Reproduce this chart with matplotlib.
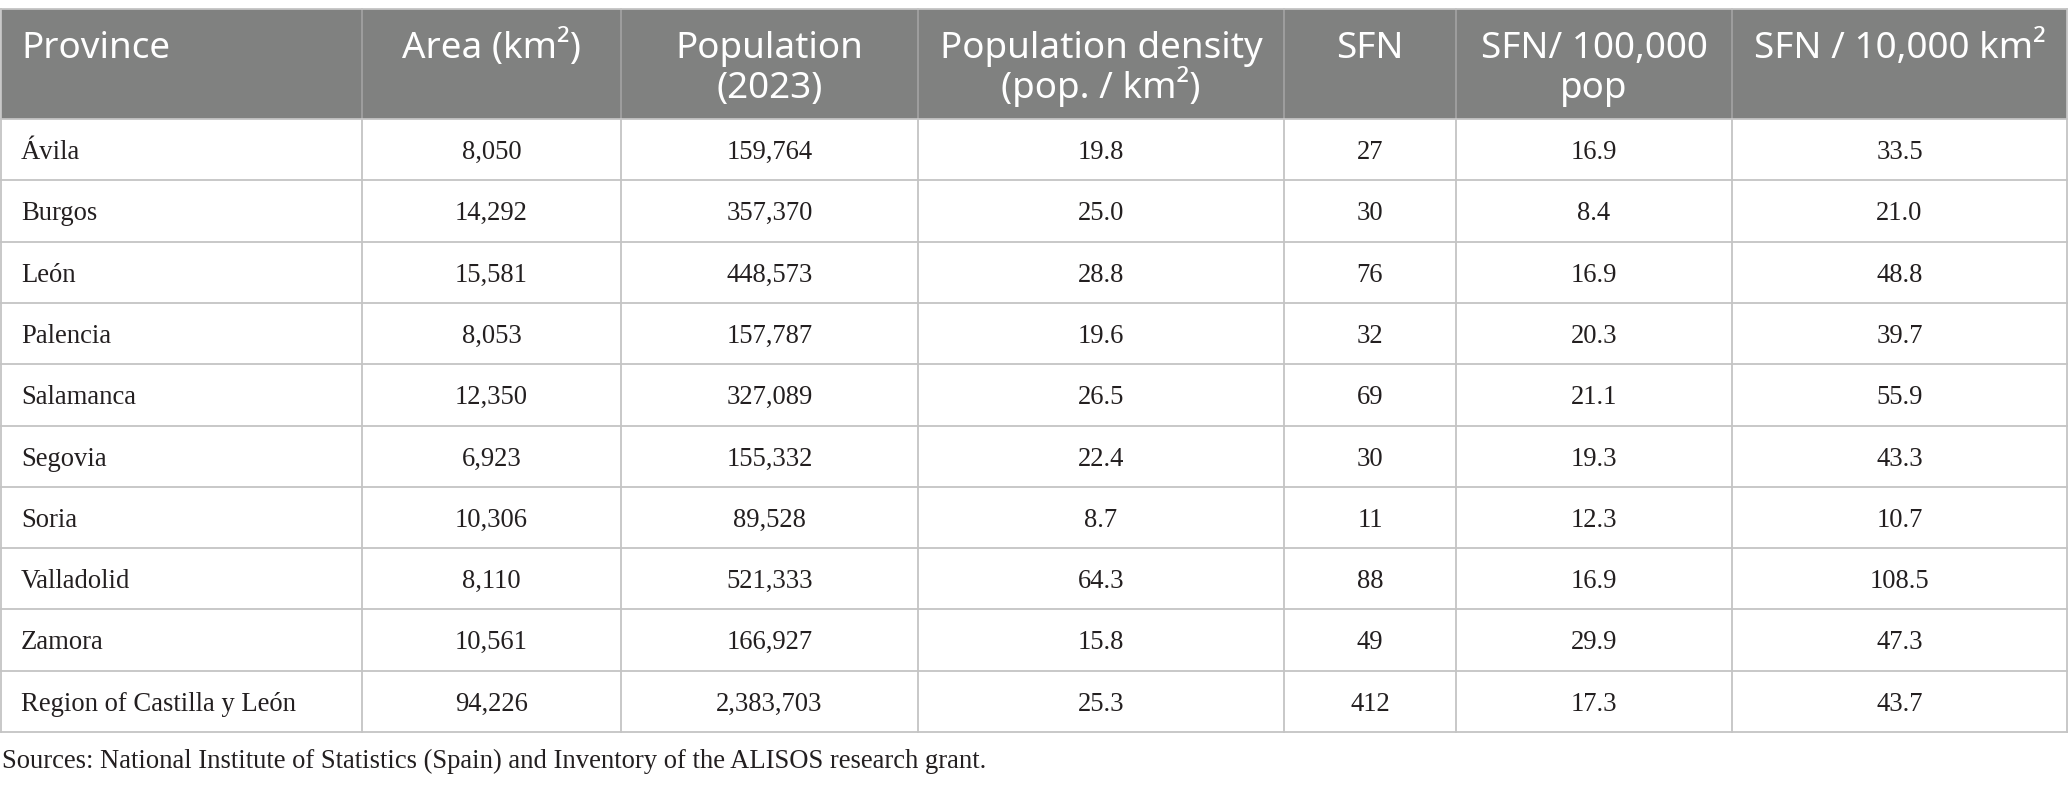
import matplotlib
matplotlib.use("Agg")
import matplotlib.pyplot as plt
from matplotlib.patches import Rectangle

# ---- data ----
provinces = ["Ávila", "Burgos", "León", "Palencia", "Salamanca", "Segovia",
             "Soria", "Valladolid", "Zamora", "Region of Castilla y León"]
area_km2 = [8050, 14292, 15581, 8053, 12350, 6923, 10306, 8110, 10561, 94226]
population_2023 = [159764, 357370, 448573, 157787, 327089, 155332, 89528,
                   521333, 166927, 2383703]
pop_density = [19.8, 25.0, 28.8, 19.6, 26.5, 22.4, 8.7, 64.3, 15.8, 25.3]
sfn = [27, 30, 76, 32, 69, 30, 11, 88, 49, 412]
sfn_per_100k = [16.9, 8.4, 16.9, 20.3, 21.1, 19.3, 12.3, 16.9, 29.9, 17.3]
sfn_per_10k_km2 = [33.5, 21.0, 48.8, 39.7, 55.9, 43.3, 10.7, 108.5, 47.3, 43.7]

headers = [["Province"], ["Area (km²)"], ["Population", "(2023)"],
           ["Population density", "(pop. / km²)"], ["SFN"],
           ["SFN/ 100,000", "pop"], ["SFN / 10,000 km²"]]
footnote = "Sources: National Institute of Statistics (Spain) and Inventory of the ALISOS research grant."

# ---- layout (pixel coordinates) ----
W, H = 2068, 789
col_edges = [1, 362, 621, 918, 1284, 1456, 1732, 2067]
table_top, header_bottom, table_bottom = 9, 119, 732
n_rows = len(provinces)
row_h = (table_bottom - header_bottom) / n_rows

header_bg = "#808180"
grid_col = "#c4c4c4"
header_div = "#a6a6a6"
text_col = "#231f20"

fig = plt.figure(figsize=(W / 100, H / 100), dpi=100)
ax = fig.add_axes([0, 0, 1, 1])
ax.set_xlim(0, W)
ax.set_ylim(H, 0)
ax.axis("off")

# header background
ax.add_patch(Rectangle((col_edges[0], table_top), col_edges[-1] - col_edges[0],
                       header_bottom - table_top, facecolor=header_bg,
                       edgecolor="none", zorder=1))
# top border line
ax.plot([col_edges[0], col_edges[-1]], [table_top, table_top], color=grid_col, lw=1.3, zorder=3)
# header vertical dividers
for x in col_edges[1:-1]:
    ax.plot([x, x], [table_top, header_bottom], color=header_div, lw=1.1, zorder=2)
# body grid
for i in range(n_rows + 1):
    y = header_bottom + i * row_h
    ax.plot([col_edges[0], col_edges[-1]], [y, y], color=grid_col, lw=1.3, zorder=3)
for x in col_edges:
    ax.plot([x, x], [header_bottom, table_bottom], color=grid_col, lw=1.3, zorder=3)
for x in (col_edges[0], col_edges[-1]):
    ax.plot([x, x], [table_top, header_bottom], color=grid_col, lw=1.3, zorder=3)

hfont = dict(family=["Noto Sans", "DejaVu Sans"], fontsize=26.5, color="white",
             weight="light")
bfont = dict(family=["Liberation Serif", "DejaVu Serif"], fontsize=19.2, color=text_col)

# header text
for j, lines in enumerate(headers):
    for k, line in enumerate(lines):
        yb = 58 + k * 40
        if j == 0:
            ax.text(col_edges[0] + 20, yb, line, ha="left", va="baseline", zorder=4, **hfont)
        else:
            xc = (col_edges[j] + col_edges[j + 1]) / 2
            ax.text(xc, yb, line, ha="center", va="baseline", zorder=4, **hfont)

# body text
for i in range(n_rows):
    yb = header_bottom + i * row_h + 40
    cells = [f"{area_km2[i]:,}", f"{population_2023[i]:,}", f"{pop_density[i]:.1f}",
             f"{sfn[i]}", f"{sfn_per_100k[i]:.1f}", f"{sfn_per_10k_km2[i]:.1f}"]
    ax.text(col_edges[0] + 20, yb, provinces[i], ha="left", va="baseline", zorder=4, **bfont)
    for j, c in enumerate(cells, start=1):
        xc = (col_edges[j] + col_edges[j + 1]) / 2
        ax.text(xc, yb, c, ha="center", va="baseline", zorder=4, **bfont)

ax.text(2, 768, footnote, ha="left", va="baseline", zorder=4, **bfont)

fig.savefig("out.png", dpi=100, facecolor="white")
